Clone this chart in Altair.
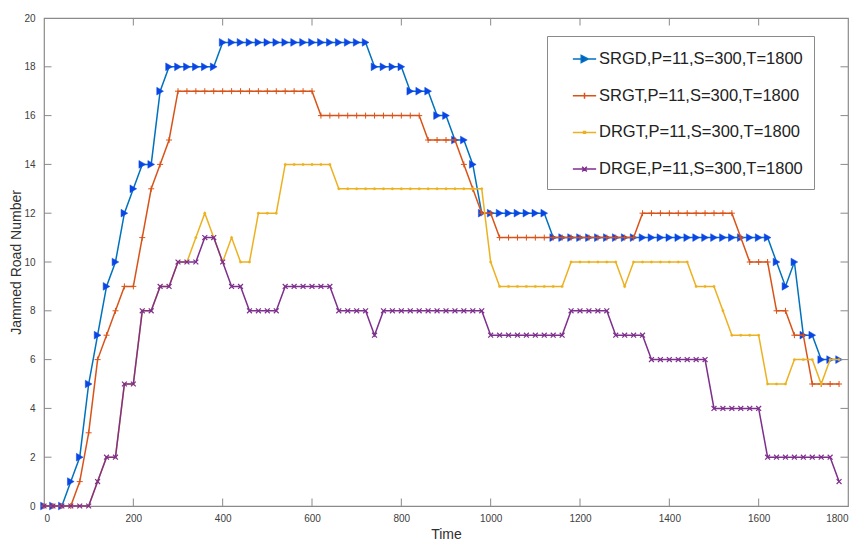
import altair as alt
import pandas as pd

times = list(range(0, 1781, 20))

srgd = [0, 0, 0, 1, 2, 5, 7, 9, 10, 12,
        13, 14, 14, 17, 18, 18, 18, 18, 18, 18,
        19, 19, 19, 19, 19, 19, 19, 19, 19, 19,
        19, 19, 19, 19, 19, 19, 19, 18, 18, 18,
        18, 17, 17, 17, 16, 16, 15, 15, 14, 12,
        12, 12, 12, 12, 12, 12, 12, 11, 11, 11,
        11, 11, 11, 11, 11, 11, 11, 11, 11, 11,
        11, 11, 11, 11, 11, 11, 11, 11, 11, 11,
        11, 11, 10, 9, 10, 7, 7, 6, 6, 6]

srgt = [0, 0, 0, 0, 1, 3, 6, 7, 8, 9,
        9, 11, 13, 14, 15, 17, 17, 17, 17, 17,
        17, 17, 17, 17, 17, 17, 17, 17, 17, 17,
        17, 16, 16, 16, 16, 16, 16, 16, 16, 16,
        16, 16, 16, 15, 15, 15, 15, 14, 13, 12,
        12, 11, 11, 11, 11, 11, 11, 11, 11, 11,
        11, 11, 11, 11, 11, 11, 11, 12, 12, 12,
        12, 12, 12, 12, 12, 12, 12, 12, 11, 10,
        10, 10, 8, 8, 7, 7, 5, 5, 5, 5]

drgt = [0, 0, 0, 0, 0, 0, 1, 2, 2, 5,
        5, 8, 8, 9, 9, 10, 10, 11, 12, 11,
        10, 11, 10, 10, 12, 12, 12, 14, 14, 14,
        14, 14, 14, 13, 13, 13, 13, 13, 13, 13,
        13, 13, 13, 13, 13, 13, 13, 13, 13, 13,
        10, 9, 9, 9, 9, 9, 9, 9, 9, 10,
        10, 10, 10, 10, 10, 9, 10, 10, 10, 10,
        10, 10, 10, 9, 9, 9, 8, 7, 7, 7,
        7, 5, 5, 5, 6, 6, 6, 5, 6, 6]

drge = [0, 0, 0, 0, 0, 0, 1, 2, 2, 5,
        5, 8, 8, 9, 9, 10, 10, 10, 11, 11,
        10, 9, 9, 8, 8, 8, 8, 9, 9, 9,
        9, 9, 9, 8, 8, 8, 8, 7, 8, 8,
        8, 8, 8, 8, 8, 8, 8, 8, 8, 8,
        7, 7, 7, 7, 7, 7, 7, 7, 7, 8,
        8, 8, 8, 8, 7, 7, 7, 7, 6, 6,
        6, 6, 6, 6, 6, 4, 4, 4, 4, 4,
        4, 2, 2, 2, 2, 2, 2, 2, 2, 1]

names = ["SRGD,P=11,S=300,T=1800", "SRGT,P=11,S=300,T=1800",
         "DRGT,P=11,S=300,T=1800", "DRGE,P=11,S=300,T=1800"]
x_ticks = [0, 200, 400, 600, 800, 1000, 1200, 1400, 1600, 1800]
y_ticks = [0, 2, 4, 6, 8, 10, 12, 14, 16, 18, 20]

line_colors = ["#0072BD", "#D95319", "#EDB120", "#7E2F8E"]
marker_fill = ["#0a46e6", "#D95319", "#EDB120", "#7E2F8E"]

FONT = "Liberation Sans"
AXC = "#8a8a8a"

rows = []
for name, vals in zip(names, [srgd, srgt, drgt, drge]):
    for t, v in zip(times, vals):
        rows.append({"t": t, "value": v, "series": name})
df = pd.DataFrame(rows)

xscale = alt.Scale(domain=[0, 1800], nice=False, zero=False)
yscale = alt.Scale(domain=[0, 20], nice=False, zero=False)

x_axis = alt.Axis(values=x_ticks, format="d", grid=False, ticks=False, tickSize=0, domain=False,
                  labelFontSize=10, labelColor="#404040", labelFont=FONT, labelPadding=7,
                  title="Time", titleFont=FONT, titleFontSize=14, titleFontWeight="normal",
                  titleColor="#303030", titleY=28, titleBaseline="middle")
y_axis = alt.Axis(values=y_ticks, format="d", grid=False, ticks=False, tickSize=0, domain=False,
                  labelFontSize=10, labelColor="#404040", labelFont=FONT, labelPadding=9,
                  title="Jammed Road Number", titleFont=FONT, titleFontSize=14,
                  titleFontWeight="normal", titleColor="#303030", titleX=-28,
                  titleBaseline="middle", titleAlign="center")

X = alt.X("t:Q", scale=xscale, axis=x_axis, title="Time")
Y = alt.Y("value:Q", scale=yscale, axis=y_axis, title="Jammed Road Number")

base = alt.Chart(df)

plus_path = "M-1,0H1M0,-1V1"
x_path = "M-1,-1L1,1M-1,1L1,-1"

layers = []
marker_specs = [
    dict(shape="triangle-right", size=60, filled=True, fill=marker_fill[0], stroke=marker_fill[0], strokeWidth=0.5),
    dict(shape=plus_path, size=36, filled=False, stroke=line_colors[1], strokeWidth=1),
    dict(shape="circle", size=6, filled=True, fill=line_colors[2], stroke=line_colors[2], strokeWidth=0.3),
    dict(shape=x_path, size=24, filled=False, stroke=line_colors[3], strokeWidth=1.2),
]
for i, name in enumerate(names):
    sub = base.transform_filter(alt.datum.series == name)
    layers.append(sub.mark_line(color=line_colors[i], strokeWidth=1.5).encode(x=X, y=Y))
    ms = marker_specs[i]
    layers.append(sub.mark_point(opacity=1, **ms).encode(x=X, y=Y))

# legend-only layer (no rows drawn)
leg_paths = [
    "M-1,0H1M-0.28,-0.3L0.32,0L-0.28,0.3Z",
    "M-1,0H1M0,-0.26V0.26",
    "M-1,0H1M-0.08,-0.08H0.08V0.08H-0.08Z",
    "M-1,0H1M-0.2,-0.2L0.2,0.2M-0.2,0.2L0.2,-0.2",
]
pad_sp = "\u00a0" * 6 + "\u2009"
leg = alt.Legend(title=None, labelExpr="datum.label + '" + pad_sp + "'")
legend_layer = base.transform_filter("false").mark_point(filled=True, opacity=1).encode(
    x=X, y=Y,
    fill=alt.Fill("series:N", scale=alt.Scale(domain=names, range=marker_fill), legend=leg),
    stroke=alt.Stroke("series:N", scale=alt.Scale(domain=names, range=line_colors), legend=leg),
    shape=alt.Shape("series:N", scale=alt.Scale(domain=names, range=leg_paths), legend=leg),
)
layers.append(legend_layer)

# inward tick marks (bottom/top/left/right)
xt = pd.DataFrame({"t": x_ticks[1:-1]})
yt = pd.DataFrame({"value": y_ticks[1:-1]})
layers.append(alt.Chart(xt).mark_rule(color=AXC, strokeWidth=1).encode(x=X, y=alt.value(488), y2=alt.value(480.5)))
layers.append(alt.Chart(xt).mark_rule(color=AXC, strokeWidth=1).encode(x=X, y=alt.value(0), y2=alt.value(7.5)))
layers.append(alt.Chart(yt).mark_rule(color=AXC, strokeWidth=1).encode(y=Y, x=alt.value(0), x2=alt.value(7.5)))
layers.append(alt.Chart(yt).mark_rule(color=AXC, strokeWidth=1).encode(y=Y, x=alt.value(804), x2=alt.value(796.5)))

chart = alt.layer(*layers).properties(
    width=804, height=488,
    autosize=alt.AutoSizeParams(type="none"),
    padding={"left": 44, "top": 18, "right": 13, "bottom": 35},
    background="white",
).configure_view(
    stroke=AXC, strokeWidth=1.2,
).configure_legend(
    orient="none", legendX=503, legendY=18,
    fillColor="white", strokeColor="#8a8a8a", strokeWidth=1,
    padding=10.5, rowPadding=15.7, labelFont=FONT, labelFontSize=16.5, labelLimit=0,
    labelColor="#222222", symbolOffset=14.5, labelOffset=2, symbolSize=543,
    symbolStrokeWidth=1.5, cornerRadius=0,
)

chart.save("out.html", embed_options={"renderer": "svg", "actions": False})
